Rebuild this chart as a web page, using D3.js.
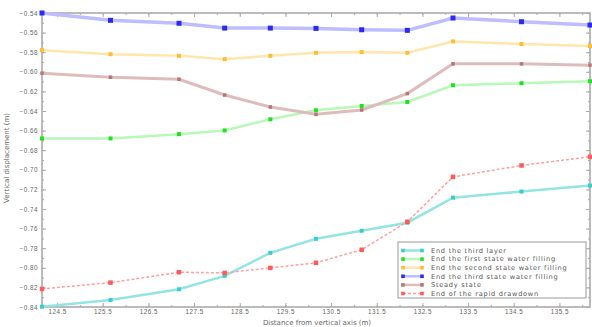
<!DOCTYPE html>
<html>
<head>
<meta charset="utf-8">
<script src="https://cdn.jsdelivr.net/npm/d3@7"></script>
<style>
  html, body { margin: 0; padding: 0; background: #fff; }
  svg { display: block; font-family: "DejaVu Sans", sans-serif; }
</style>
</head>
<body>
<svg id="chart" width="592" height="327"></svg>
<script>
// Distance from the vertical axis (m) at each measuring point
const distances = [124.17, 125.67, 127.17, 128.17, 129.17, 130.17, 131.17, 132.17, 133.17, 134.67, 136.17];

// Vertical displacement (m) per stage
const thirdLayer   = [-0.8397, -0.8328, -0.8219, -0.8082, -0.7847, -0.7704, -0.7622, -0.7540, -0.7284, -0.7222, -0.7161];
const firstFill    = [-0.6680, -0.6680, -0.6636, -0.6598, -0.6485, -0.6393, -0.6349, -0.6308, -0.6137, -0.6117, -0.6096];
const secondFill   = [-0.5779, -0.5820, -0.5837, -0.5871, -0.5837, -0.5806, -0.5799, -0.5806, -0.5690, -0.5717, -0.5738];
const thirdFill    = [-0.5400, -0.5475, -0.5505, -0.5554, -0.5554, -0.5557, -0.5571, -0.5577, -0.5451, -0.5489, -0.5523];
const steadyState  = [-0.6014, -0.6055, -0.6076, -0.6237, -0.6359, -0.6434, -0.6390, -0.6222, -0.5919, -0.5919, -0.5932];
const rapidDraw    = [-0.8216, -0.8151, -0.8045, -0.8052, -0.8001, -0.7949, -0.7816, -0.7530, -0.7072, -0.6956, -0.6867];

const seriesNames = [
  "End the third layer",
  "End the first state water filling",
  "End the second state water filling",
  "End the third state water filling",
  "Steady state",
  "End of the rapid drawdown"
];

const yTickValues = [-0.54, -0.56, -0.58, -0.60, -0.62, -0.64, -0.66, -0.68, -0.70, -0.72, -0.74, -0.76, -0.78, -0.80, -0.82, -0.84];
const xTickValues = [124.5, 125.5, 126.5, 127.5, 128.5, 129.5, 130.5, 131.5, 132.5, 133.5, 134.5, 135.5];

const styles = [
  { line: "#93e4e4", mark: "#3ccccc", dash: null, lw: 2.5, ms: 4 },
  { line: "#b8f8b8", mark: "#22e022", dash: null, lw: 2.5, ms: 4 },
  { line: "#ffe6ad", mark: "#ffbd35", dash: null, lw: 2.5, ms: 4 },
  { line: "#bdbdff", mark: "#2a2af2", dash: null, lw: 3.5, ms: 5 },
  { line: "#dfbcbc", mark: "#b87575", dash: null, lw: 3, ms: 3.5 },
  { line: "#ffa0a0", mark: "#ff5a5a", dash: "3,2", lw: 1.5, ms: 4.5 }
];
const allValues = [thirdLayer, firstFill, secondFill, thirdFill, steadyState, rapidDraw];

const svg = d3.select("#chart");
const plotLeft = 42, plotRight = 590, plotTop = 13, plotBottom = 307;

const x = d3.scaleLinear().domain([124.17, 136.17]).range([plotLeft, plotRight]);
const y = d3.scaleLinear().domain([-0.84, -0.54]).range([plotBottom, plotTop]);

const axisColor = "#ababab";
const textColor = "#666";

// frame
svg.append("rect")
  .attr("x", plotLeft).attr("y", plotTop)
  .attr("width", plotRight - plotLeft).attr("height", plotBottom - plotTop)
  .attr("fill", "none").attr("stroke", axisColor).attr("stroke-width", 1.6);

// inward ticks on all four sides, with minor ticks in between
const yMinor = d3.range(0, 31).map(i => -0.84 + i * 0.01);
const xMinor = d3.range(124.5, 136.1, 0.5);

function tickGroup(axis, tf) {
  return svg.append("g").attr("transform", tf).call(axis)
    .call(g => g.select(".domain").remove())
    .call(g => g.selectAll("line").attr("stroke", axisColor))
    .call(g => g.selectAll("text").attr("fill", textColor).attr("font-size", 6.3)
      .attr("letter-spacing", 0.5));
}

tickGroup(d3.axisLeft(y).tickValues(yTickValues).tickSize(-4).tickPadding(4)
  .tickFormat(d => d3.format(".2f")(d)), `translate(${plotLeft},0)`);
tickGroup(d3.axisLeft(y).tickValues(yMinor).tickSize(-2).tickFormat(""), `translate(${plotLeft},0)`);
tickGroup(d3.axisRight(y).tickValues(yTickValues).tickSize(-4).tickFormat(""), `translate(${plotRight},0)`);
tickGroup(d3.axisRight(y).tickValues(yMinor).tickSize(-2).tickFormat(""), `translate(${plotRight},0)`);

tickGroup(d3.axisBottom(x).tickValues(xTickValues).tickSize(-4).tickPadding(3)
  .tickFormat(d3.format(".1f")), `translate(0,${plotBottom})`);
tickGroup(d3.axisBottom(x).tickValues(xMinor).tickSize(-2).tickFormat(""), `translate(0,${plotBottom})`);
tickGroup(d3.axisTop(x).tickValues(xTickValues).tickSize(-4).tickFormat(""), `translate(0,${plotTop})`);
tickGroup(d3.axisTop(x).tickValues(xMinor).tickSize(-2).tickFormat(""), `translate(0,${plotTop})`);

// axis titles
svg.append("text")
  .attr("x", 317).attr("y", 325)
  .attr("text-anchor", "middle").attr("font-size", 7).attr("fill", textColor)
  .text("Distance from vertical axis (m)");
svg.append("text")
  .attr("transform", "translate(9,158) rotate(-90)")
  .attr("text-anchor", "middle").attr("font-size", 7).attr("fill", textColor)
  .text("Vertical displacement (m)");

// series
const line = d3.line().x((d, i) => x(distances[i])).y(d => y(d));
const plot = svg.append("g");
allValues.forEach((vals, k) => {
  const s = styles[k];
  plot.append("path")
    .datum(vals)
    .attr("d", line)
    .attr("fill", "none")
    .attr("stroke", s.line)
    .attr("stroke-width", s.lw)
    .attr("stroke-dasharray", s.dash);
  plot.selectAll(null)
    .data(vals)
    .enter().append("rect")
    .attr("x", (d, i) => x(distances[i]) - s.ms / 2)
    .attr("y", d => y(d) - s.ms / 2)
    .attr("width", s.ms).attr("height", s.ms)
    .attr("fill", s.mark);
});

// legend
const lg = svg.append("g").attr("transform", "translate(398,242)");
lg.append("rect")
  .attr("width", 188).attr("height", 56)
  .attr("fill", "#fff").attr("stroke", "#9a9a9a").attr("stroke-width", 1);
seriesNames.forEach((name, k) => {
  const s = styles[k];
  const ly = 8.5 + k * 8.6;
  lg.append("line")
    .attr("x1", 5).attr("x2", 24).attr("y1", ly).attr("y2", ly)
    .attr("stroke", s.line).attr("stroke-width", Math.min(s.lw, 2.5))
    .attr("stroke-dasharray", s.dash);
  [5, 24].forEach(px => lg.append("rect")
    .attr("x", px - 1.8).attr("y", ly - 1.8).attr("width", 3.6).attr("height", 3.6)
    .attr("fill", s.mark));
  lg.append("text")
    .attr("x", 33).attr("y", ly + 2.3)
    .attr("font-size", 6.6).attr("letter-spacing", 0.75).attr("fill", "#555")
    .text(name);
});
</script>
</body>
</html>
